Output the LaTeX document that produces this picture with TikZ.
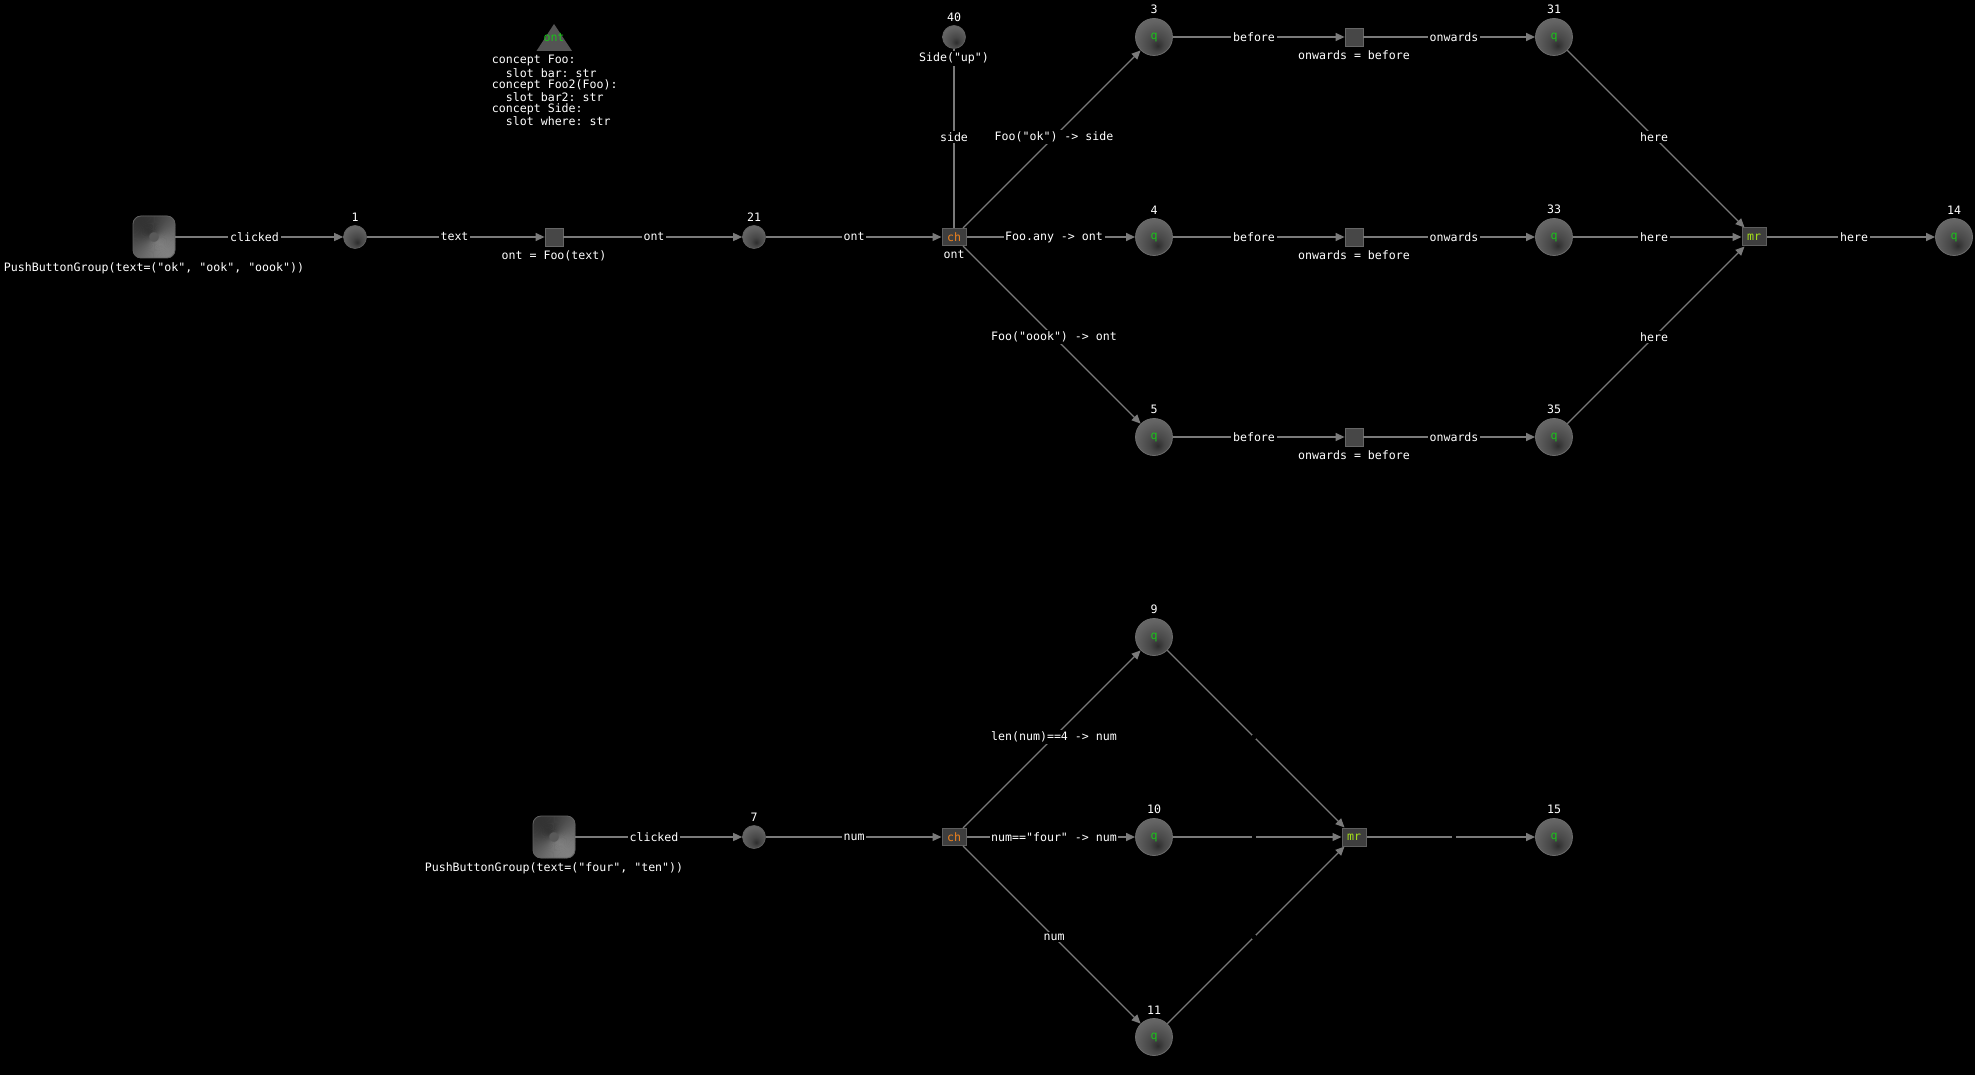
\documentclass[tikz,border=0pt]{standalone}
\usepackage{fontspec}
\setmonofont{DejaVu Sans Mono}
\usetikzlibrary{arrows.meta,calc}

\definecolor{wire}{HTML}{7A7A7A}
\definecolor{qgreen}{HTML}{19C419}
\definecolor{chorange}{HTML}{F0831E}
\definecolor{mrlime}{HTML}{A6E01A}
\definecolor{boxfill}{HTML}{3E3E3E}
\definecolor{boxline}{HTML}{5E5E5E}

% soft sphere look for the round nodes: dark spot below centre, lighter rim
\pgfdeclareradialshading{orb}{\pgfpoint{5bp}{-12bp}}{%
  color(0bp)=(black!82); color(10bp)=(black!72); color(28bp)=(black!61);
  color(50bp)=(black!55); color(65bp)=(black!50)}

% connector with its label centred between the two node centres
\newcommand\wire[4][link]{%
  \draw[#1] (#2) -- (#3);
  \node[elbl] (lbl-#2-#3) at ($(#2)!0.5!(#3)$) {#4};}

\begin{document}
\begin{tikzpicture}[x=0.5pt,y=-0.5pt,
  font=\ttfamily\fontsize{5.8}{7}\selectfont,
  every label/.style={text=white,fill=black,inner sep=1pt},
  label distance=0.8pt,
  link/.style={draw=wire,line width=0.65pt,-{Triangle[length=4.5pt,width=4pt]}},
  bareline/.style={draw=wire,line width=0.65pt},
  elbl/.style={fill=black,text=white,inner sep=0.8pt},
  dot/.style={circle,minimum size=11.5pt,inner sep=0,shading=orb,
    draw=black!62,line width=0.3pt},
  orbq/.style={circle,minimum size=18.5pt,inner sep=0,shading=orb,
    draw=black!58,line width=0.4pt,text=qgreen},
  sqbox/.style={rectangle,minimum size=9pt,inner sep=0,fill=black!72,
    draw=black!60,line width=0.4pt},
  opbox/.style={rectangle,minimum width=12pt,minimum height=8.6pt,inner sep=0,
    fill=boxfill,draw=boxline,line width=0.5pt},
  % conic grey sweep inside a rounded square
  button/.style={rectangle,rounded corners=4pt,minimum size=21pt,inner sep=0,
    draw=black!62,line width=0.4pt,
    path picture={
      \fill[black!65] (path picture bounding box.south west)
        rectangle (path picture bounding box.north east);
      \foreach \a in {0,4,...,356}{
        \pgfmathsetmacro\g{20+30*(1+cos(\a+55))/2}
        \fill[white!\g!black] (path picture bounding box.center)
          -- ++(\a:16pt) arc[start angle=\a,end angle=\a+5,radius=16pt] -- cycle;
      }}},
]
\fill[black] (0,0) rectangle (1975,1075);
\useasboundingbox (0,0) rectangle (1975,1075);

% ---------- concept declaration ----------
\fill[black!67] (536.5,51) -- (554,24) -- (572,51) -- cycle;
\node[text=qgreen,inner sep=0] (cpt) at (554,38) {ont};
\node[anchor=north west,align=left,inner sep=0,text=white,
  font=\ttfamily\fontsize{5.8}{5.55}\selectfont] (concepts) at (491.5,55)
  {concept Foo:\\\hphantom{sl}slot bar: str\\concept Foo2(Foo):\\
   \hphantom{sl}slot bar2: str\\concept Side:\\\hphantom{sl}slot where: str};

% ---------- upper flow ----------
\node[button,label={below:{PushButtonGroup(text=("ok", "ook", "oook"))}}] (pbA) at (154,237) {};
\node[dot,label={above:1}] (n1) at (355,237) {};
\node[sqbox,label={below:{ont = Foo(text)}}] (sqA) at (554,237) {};
\node[dot,label={above:21}] (n21) at (754,237) {};
\node[dot,label={above:40}] (n40) at (954,37) {};

\node[orbq,label={above:3}] (q3) at (1154,37) {q};
\node[orbq,label={above:4}] (q4) at (1154,237) {q};
\node[orbq,label={above:5}] (q5) at (1154,437) {q};

\node[sqbox,label={below:{onwards = before}}] (sq3) at (1354,37) {};
\node[sqbox,label={below:{onwards = before}}] (sq4) at (1354,237) {};
\node[sqbox,label={below:{onwards = before}}] (sq5) at (1354,437) {};

\node[orbq,label={above:31}] (q31) at (1554,37) {q};
\node[orbq,label={above:33}] (q33) at (1554,237) {q};
\node[orbq,label={above:35}] (q35) at (1554,437) {q};

\node[opbox,minimum height=9pt,text=mrlime] (mrA) at (1754,237) {mr};
\node[orbq,label={above:14}] (q14) at (1954,237) {q};

% the side line runs under the caption of node 40, so draw it first
\node[opbox,text=chorange,label={below:ont}] (chA) at (954,237) {ch};
\wire[bareline]{n40}{chA}{side}
\node[text=white,fill=black,inner sep=1pt,anchor=north] (sideup)
  at ([yshift=-0.8pt]n40.south) {Side("up")};

\wire{pbA}{n1}{clicked}
\wire{n1}{sqA}{text}
\wire{sqA}{n21}{ont}
\wire{n21}{chA}{ont}
\wire{chA}{q3}{Foo("ok") -> side}
\wire{chA}{q4}{Foo.any -> ont}
\wire{chA}{q5}{Foo("oook") -> ont}
\wire{q3}{sq3}{before}
\wire{q4}{sq4}{before}
\wire{q5}{sq5}{before}
\wire{sq3}{q31}{onwards}
\wire{sq4}{q33}{onwards}
\wire{sq5}{q35}{onwards}
\wire{q31}{mrA}{here}
\wire{q33}{mrA}{here}
\wire{q35}{mrA}{here}
\wire{mrA}{q14}{here}

% ---------- lower flow ----------
\node[button,label={below:{PushButtonGroup(text=("four", "ten"))}}] (pbB) at (554,837) {};
\node[dot,label={above:7}] (n7) at (754,837) {};
\node[opbox,text=chorange] (chB) at (954,837) {ch};
\node[orbq,label={above:9}] (q9) at (1154,637) {q};
\node[orbq,label={above:10}] (q10) at (1154,837) {q};
\node[orbq,label={above:11}] (q11) at (1154,1037) {q};
\node[opbox,minimum height=9pt,text=mrlime] (mrB) at (1354,837) {mr};
\node[orbq,label={above:15}] (q15) at (1554,837) {q};

\wire{pbB}{n7}{clicked}
\wire{n7}{chB}{num}
\wire{chB}{q9}{len(num)==4 -> num}
\wire{chB}{q10}{num=="four" -> num}
\wire{chB}{q11}{num}
\wire{q9}{mrB}{}
\wire{q10}{mrB}{}
\wire{q11}{mrB}{}
\wire{mrB}{q15}{}
\end{tikzpicture}
\end{document}
